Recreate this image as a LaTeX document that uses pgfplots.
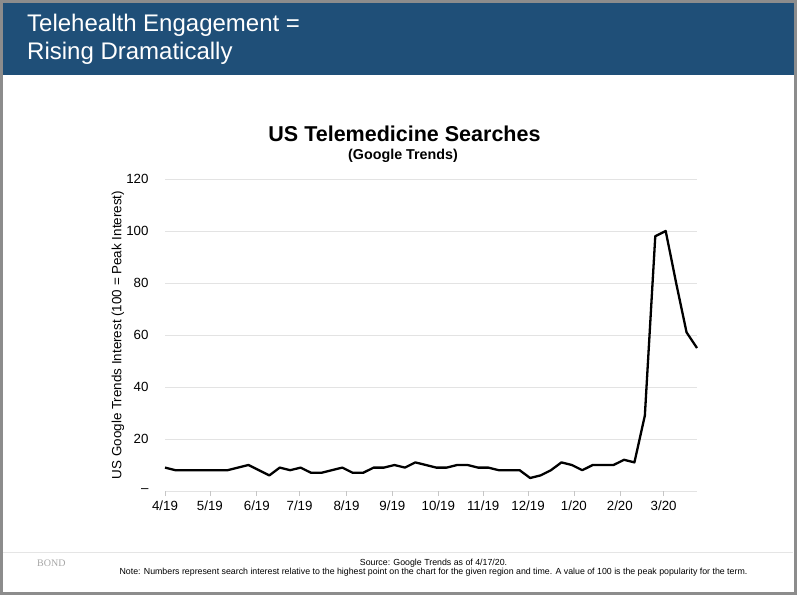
\documentclass[border=0pt]{standalone}
\usepackage{pgfplots}
\pgfplotsset{compat=1.18}
\usepackage{fontspec}
\setmainfont{Liberation Sans}
\newfontfamily\bondfont{Liberation Serif}
\definecolor{hdr}{HTML}{1F4F78}
\definecolor{frame}{HTML}{8C8C8C}
\begin{document}
\begin{tikzpicture}[x=1pt,y=1pt]
\path[use as bounding box] (0,0) rectangle (800,598);
\fill[hdr] (0,523) rectangle (796,598);
\draw[frame, line width=3pt] (1.5,4.5) rectangle (795.5,596.5);
\node[anchor=base west, text=white, inner sep=0pt, font=\fontsize{24}{28}\selectfont] at (27,566.3) {Telehealth Engagement =};
\node[anchor=base west, text=white, inner sep=0pt, font=\fontsize{24}{28}\selectfont] at (27,538) {Rising Dramatically};
\node[anchor=base, inner sep=0pt, font=\bfseries\fontsize{21.5}{25}\selectfont] at (404.5,456.3) {US Telemedicine Searches};
\node[anchor=base, inner sep=0pt, font=\bfseries\fontsize{14.3}{17}\selectfont] at (403,438.5) {(Google Trends)};
\draw[gray!20, line width=1pt] (3,46) -- (793,46);
\node[anchor=base west, inner sep=0pt, text=gray!70, font=\bondfont\fontsize{10}{12}\selectfont] at (37,31.5) {BOND};
\node[anchor=base, inner sep=0pt, font=\fontsize{8.8}{10}\selectfont] at (433.5,32.3) {Source: Google Trends as of 4/17/20.};
\node[anchor=base, inner sep=0pt, font=\fontsize{8.8}{10}\selectfont] at (433.5,23.7) {Note: Numbers represent search interest relative to the highest point on the chart for the given region and time. A value of 100 is the peak popularity for the term.};
\begin{axis}[
  at={(165pt,107pt)}, anchor=south west,
  width=532pt, height=312pt, scale only axis,
  xmin=0, xmax=51, ymin=0, ymax=120,
  axis line style={draw=none},
  ytick={0,20,40,60,80,100,120},
  yticklabels={\textendash,20,40,60,80,100,120},
  xtick={0,4.3,8.8,12.9,17.4,21.8,26.2,30.5,34.8,39.2,43.6,47.8},
  xticklabels={4/19,5/19,6/19,7/19,8/19,9/19,10/19,11/19,12/19,1/20,2/20,3/20},
  ymajorgrids, grid style={gray!22, line width=0.9pt},
  tick align=outside, xtick pos=bottom, ytick pos=left,
  major tick length=5pt,
  xtick style={draw=gray!45, line width=0.6pt},
  ytick style={draw=none},
  /pgf/number format/assume math mode=true,
  tick label style={font=\fontsize{13.3}{15}\selectfont},
  yticklabel style={xshift=-8pt},
  xticklabel style={yshift=-1pt},
  every axis y label/.style={at={(rel axis cs:-0.0883,0.5)}, rotate=90, anchor=center, font=\fontsize{13.4}{15}\selectfont},
  ylabel={US Google Trends Interest (100 = Peak Interest)},
  clip=false,
]
\addplot[black, line width=2.3pt, line join=round] table {
0 9
1 8
2 8
3 8
4 8
5 8
6 8
7 9
8 10
9 8
10 6
11 9
12 8
13 9
14 7
15 7
16 8
17 9
18 7
19 7
20 9
21 9
22 10
23 9
24 11
25 10
26 9
27 9
28 10
29 10
30 9
31 9
32 8
33 8
34 8
35 5
36 6
37 8
38 11
39 10
40 8
41 10
42 10
43 10
44 12
45 11
46 29
47 98
48 100
49 80
50 61
51 55
};
\end{axis}
\end{tikzpicture}
\end{document}
